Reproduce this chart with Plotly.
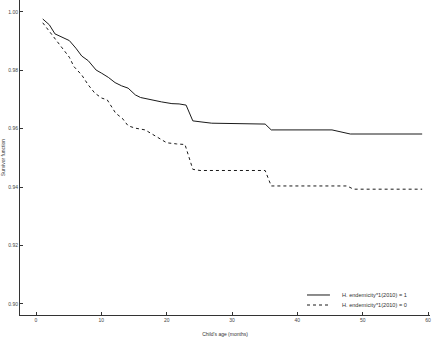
import plotly.graph_objects as go

# Survivor function, H. endemicity*1(2010) = 1 (solid)
age_1 = [1.03, 2.04, 2.9, 3.93, 5.1, 6.1, 7.0, 8.0, 9.2, 10.06, 11.07, 12.1, 13.1, 14.1,
         15.2, 16.0, 17.2, 18.2, 19.2, 20.8, 21.9, 22.97, 24.0, 25.4, 26.9, 35.07, 36.0,
         45.3, 47.1, 48.1, 59.1]
surv_1 = [0.9976, 0.9956, 0.9925, 0.9913, 0.9902, 0.9876, 0.9849, 0.9833, 0.9801, 0.9790,
          0.9776, 0.9758, 0.9747, 0.9739, 0.9716, 0.9707, 0.9701, 0.9695, 0.9692, 0.9686,
          0.9685, 0.9681, 0.9627, 0.9623, 0.9619, 0.9616, 0.9596, 0.9596, 0.9588, 0.9582,
          0.9582]

# Survivor function, H. endemicity*1(2010) = 0 (dashed)
age_0 = [1.03, 1.9, 2.9, 4.08, 5.1, 5.8, 7.0, 8.0, 9.0, 10.06, 10.9, 12.2, 13.2, 14.1,
         15.2, 16.7, 18.2, 20.0, 21.5, 22.8, 24.0, 25.1, 35.07, 36.0, 47.6, 48.6, 59.1]
surv_0 = [0.9963, 0.9938, 0.9910, 0.9876, 0.9845, 0.9813, 0.9784, 0.9750, 0.9722, 0.9705,
          0.9699, 0.9653, 0.9636, 0.9610, 0.9602, 0.9596, 0.9575, 0.9552, 0.9548, 0.9546,
          0.9461, 0.9457, 0.9457, 0.9404, 0.9404, 0.9393, 0.9393]

x_ticks = [0, 10, 20, 30, 40, 50, 60]
y_ticks = [0.90, 0.92, 0.94, 0.96, 0.98, 1.00]
y_labels = ["0.90", "0.92", "0.94", "0.96", "0.98", "1.00"]
series_names = ["H. endemicity*1(2010) = 1", "H. endemicity*1(2010) = 0"]
series_dash = ["solid", "3px,3px"]
line_color = "#1a1a1a"

fig = go.Figure()
fig.add_trace(go.Scatter(x=age_1, y=surv_1, mode="lines", name=series_names[0],
                         line=dict(color=line_color, width=1, dash=series_dash[0])))
fig.add_trace(go.Scatter(x=age_0, y=surv_0, mode="lines", name=series_names[1],
                         line=dict(color=line_color, width=1, dash=series_dash[1])))

# Manual legend (bottom-right, inside plot area), rows 10px apart
legend_rows_y = [0.0635, 0.0317]
for name, dash, yy in zip(series_names, series_dash, legend_rows_y):
    fig.add_shape(type="line", xref="paper", yref="paper", x0=0.700, x1=0.756,
                  y0=yy, y1=yy, line=dict(color=line_color, width=1, dash=dash))
    fig.add_annotation(xref="paper", yref="paper", x=0.780, y=yy, text=name,
                       showarrow=False, xanchor="left", yanchor="middle",
                       font=dict(size=5.6, color="#333"))

axis_font = dict(family="Liberation Sans, Arial, sans-serif", size=5, color="#444")
fig.update_layout(
    width=433, height=363,
    margin=dict(l=20, r=3, t=0, b=48),
    paper_bgcolor="white", plot_bgcolor="white",
    font=axis_font,
    showlegend=False,
    xaxis=dict(range=[-2.45, 60.3], tickvals=x_ticks, ticks="inside", ticklen=3,
               tickcolor="#333", showgrid=False, zeroline=False,
               showline=True, linecolor="#333", linewidth=1,
               title=dict(text="Child's age (months)", font=dict(size=5, color="#333"),
                          standoff=10)),
    yaxis=dict(range=[0.8962, 1.0041], tickvals=y_ticks, ticktext=y_labels,
               ticks="inside", ticklen=3, tickcolor="#333", showgrid=False,
               zeroline=False, showline=True, linecolor="#333", linewidth=1,
               title=dict(text="Survivor function", font=dict(size=5, color="#333"),
                          standoff=2)),
)

fig.write_html("out.html")
